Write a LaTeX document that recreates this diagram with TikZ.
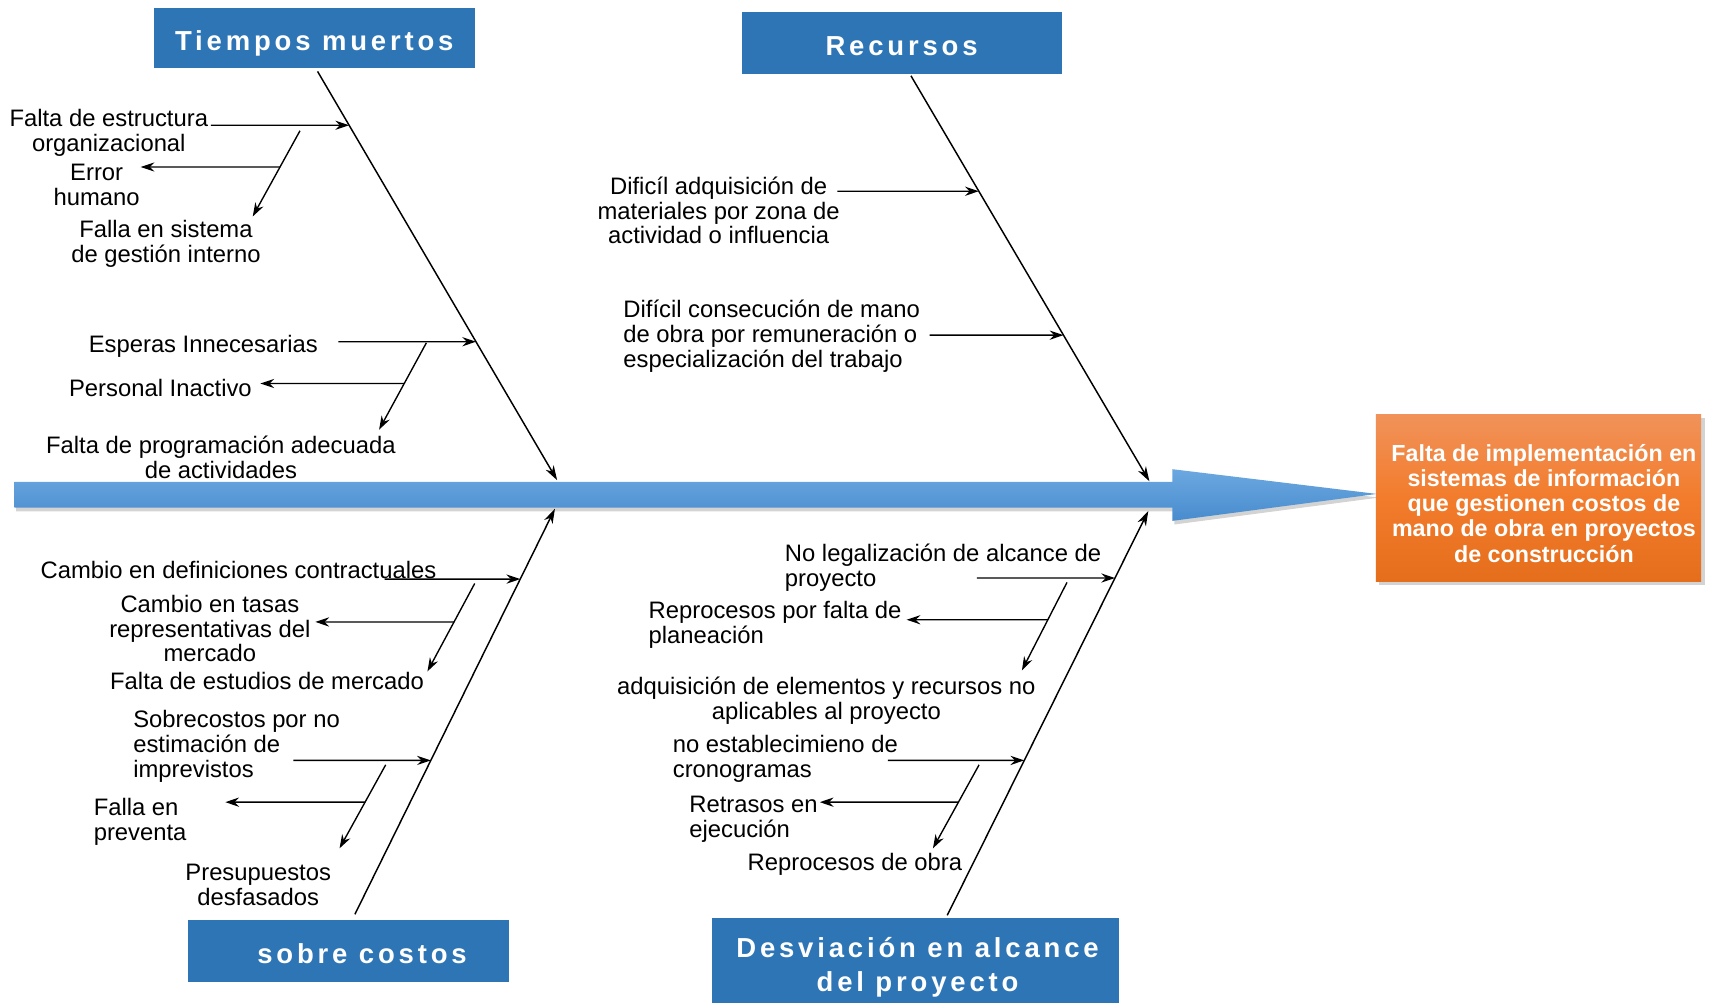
\documentclass[tikz,border=0pt]{standalone}
\usepackage{fontspec}
\setmainfont{Liberation Sans}
\newfontfamily\titlefont[LetterSpace=14]{Liberation Sans}
\usetikzlibrary{arrows.meta,calc,shadows}
\definecolor{catblue}{RGB}{46,117,182}
\definecolor{spinetop}{RGB}{108,168,224}
\definecolor{spinebot}{RGB}{72,140,206}
\definecolor{orgtop}{RGB}{241,146,90}
\definecolor{orgmid}{RGB}{242,124,44}
\definecolor{orgbot}{RGB}{229,110,28}
\begin{document}
\begin{tikzpicture}[x=0.6pt,y=-0.6pt,
  lbl/.style={font=\fontsize{13}{13.6}\selectfont, inner sep=0pt, align=center, yshift=-1.2pt},
  lbll/.style={lbl, align=left, anchor=west},
  catbox/.style={fill=catblue, inner sep=0pt},
  cattext/.style={text=white, inner sep=0pt, align=center,
    font=\titlefont\bfseries\fontsize{15}{18.6}\selectfont},
  cat1/.style={catbox, text=white, align=center, text height=13.5pt, text depth=0pt,
    font=\titlefont\bfseries\fontsize{15}{18.6}\selectfont},
  orgbox/.style={top color=orgtop, bottom color=orgbot, middle color=orgmid,
    inner sep=0pt,
    drop shadow={opacity=0.35, shadow xshift=2pt, shadow yshift=-2pt}},
  orgtext/.style={text=white, inner sep=0pt, align=center,
    font=\bfseries\fontsize{12.7}{13.8}\selectfont},
  bone/.style={line width=0.8pt, -{Stealth[length=8pt,width=5pt,inset=2.5pt]}},
  twig/.style={line width=0.75pt, -{Stealth[length=7.5pt,width=5pt,inset=2.5pt]}}]
\useasboundingbox (0,0) rectangle (1568,915);

% spine
\path[top color=spinetop, bottom color=spinebot,
  drop shadow={opacity=0.35, shadow xshift=1pt, shadow yshift=-2pt}]
  (13,438.5) -- (1067,438.5) -- (1067,427) -- (1253,449.5) -- (1067,474)
  -- (1067,462) -- (13,462) -- cycle;

% effect
\node[orgbox, minimum width=177.6pt, minimum height=91.2pt] (eff) at (1400,453) {};
\node[orgtext] (efftext) at (1405,458)
  {Falta de implementación en\\sistemas de información\\que gestionen costos de\\mano de obra en proyectos\\de construcción};

% categories
\node[cat1, minimum width=175.2pt, minimum height=33pt] (ctm) at (286,34.5) {Tiempos muertos};
\node[cat1, minimum width=174.6pt, minimum height=33.6pt] (crec) at (820.5,39) {Recursos};
\node[cat1, minimum width=175.2pt, minimum height=34.2pt] (csc) at (317,865.5) {\hspace*{15pt}sobre costos};
\node[catbox, minimum width=222pt, minimum height=46.8pt] (cdv) at (833,874) {};
\node[cattext] (cdvt) at (835,880) {Desviación en alcance\\del proyecto};

% main bones
\coordinate (ta) at (289,65);  \coordinate (tb) at (507,437);
\coordinate (ra) at (829,69);  \coordinate (rb) at (1046,438);
\coordinate (sa) at (323,832); \coordinate (sb) at (505,463);
\coordinate (va) at (862,833); \coordinate (vb) at (1045,465);
\draw[bone] (ta) -- (tb);
\draw[bone] (ra) -- (rb);
\draw[bone] (sa) -- (sb);
\draw[bone] (va) -- (vb);

% labels: Tiempos muertos
\node[lbl] (t1) at (99,118.5) {Falta de estructura\\organizacional};
\node[lbl] (t2) at (88,166.5) {Error\\humano};
\node[lbl] (t3) at (151,219.5) {Falla en sistema\\de gestión interno};
\node[lbl] (t4) at (185,313) {Esperas Innecesarias};
\node[lbl] (t5) at (146,351) {Personal Inactivo};
\node[lbl] (t6) at (201,414.5) {Falta de programación adecuada\\de actividades};

% labels: Recursos
\node[lbl] (r1) at (654,189.5) {Dificíl adquisición de\\materiales por zona de\\actividad o influencia};
\node[lbll] (r2) at (567,304) {Difícil consecución de mano\\de obra por remuneración o\\especialización del trabajo};

% labels: sobre costos
\node[lbl] (s1) at (217,517) {Cambio en definiciones contractuales};
\node[lbl] (s2) at (191,570) {Cambio en tasas\\representativas del\\mercado};
\node[lbl] (s3) at (243,618) {Falta de estudios de mercado};
\node[lbll] (s4) at (121,677) {Sobrecostos por no\\estimación de\\imprevistos};
\node[lbll] (s5) at (85,745.5) {Falla en\\preventa};
\node[lbl] (s6) at (235,803.5) {Presupuestos\\desfasados};

% labels: Desviacion
\node[lbll] (v1) at (714,514.5) {No legalización de alcance de\\proyecto};
\node[lbll] (v2) at (590,566.5) {Reprocesos por falta de\\planeación};
\node[lbl] (v3) at (752,636) {adquisición de elementos y recursos no\\aplicables al proyecto};
\node[lbll] (v4) at (612,688.5) {no establecimieno de\\cronogramas};
\node[lbll] (v5) at (627,743.5) {Retrasos en\\ejecución};
\node[lbl] (v6) at (778,785) {Reprocesos de obra};

% Tiempos twigs
\coordinate (t1s) at (192,114); \coordinate (t1e) at ($(ta)!0.1317!(tb)$);
\draw[twig] (t1s) -- (t1e);
\coordinate (d1a) at (273,119); \coordinate (d1b) at (230,197);
\draw[twig] (d1a) -- (d1b);
\coordinate (e1s) at ($(d1a)!0.423!(d1b)$); \coordinate (e1e) at (128,152);
\draw[twig] (e1s) -- (e1e);
\coordinate (t4s) at (308,311); \coordinate (t4e) at ($(ta)!0.6613!(tb)$);
\draw[twig] (t4s) -- (t4e);
\coordinate (d2a) at (388,312); \coordinate (d2b) at (345,391);
\draw[twig] (d2a) -- (d2b);
\coordinate (e2s) at ($(d2a)!0.468!(d2b)$); \coordinate (e2e) at (237,349);
\draw[twig] (e2s) -- (e2e);

% Recursos twigs
\coordinate (r1s) at (762,174); \coordinate (r1e) at ($(ra)!0.2846!(rb)$);
\draw[twig] (r1s) -- (r1e);
\coordinate (r2s) at (846,305); \coordinate (r2e) at ($(ra)!0.6396!(rb)$);
\draw[twig] (r2s) -- (r2e);

% sobre costos twigs
\coordinate (s1s) at (350,527); \coordinate (s1e) at ($(sa)!0.8266!(sb)$);
\draw[twig] (s1s) -- (s1e);
\coordinate (d3a) at (432,531); \coordinate (d3b) at (389,611);
\draw[twig] (d3a) -- (d3b);
\coordinate (e3s) at ($(d3a)!0.4375!(d3b)$); \coordinate (e3e) at (287,566);
\draw[twig] (e3s) -- (e3e);
\coordinate (s4s) at (267,692); \coordinate (s4e) at ($(sa)!0.3794!(sb)$);
\draw[twig] (s4s) -- (s4e);
\coordinate (d4a) at (351,696); \coordinate (d4b) at (309,772);
\draw[twig] (d4a) -- (d4b);
\coordinate (e4s) at ($(d4a)!0.447!(d4b)$); \coordinate (e4e) at (205,730);
\draw[twig] (e4s) -- (e4e);

% Desviacion twigs
\coordinate (v1s) at (889,526); \coordinate (v1e) at ($(va)!0.8342!(vb)$);
\draw[twig] (v1s) -- (v1e);
\coordinate (d5a) at (971,530); \coordinate (d5b) at (930,610);
\draw[twig] (d5a) -- (d5b);
\coordinate (e5s) at ($(d5a)!0.425!(d5b)$); \coordinate (e5e) at (825,564);
\draw[twig] (e5s) -- (e5e);
\coordinate (v4s) at (808,692); \coordinate (v4e) at ($(va)!0.3832!(vb)$);
\draw[twig] (v4s) -- (v4e);
\coordinate (d6a) at (891,696); \coordinate (d6b) at (849,772);
\draw[twig] (d6a) -- (d6b);
\coordinate (e6s) at ($(d6a)!0.447!(d6b)$); \coordinate (e6e) at (746,730);
\draw[twig] (e6s) -- (e6e);
\end{tikzpicture}
\end{document}
